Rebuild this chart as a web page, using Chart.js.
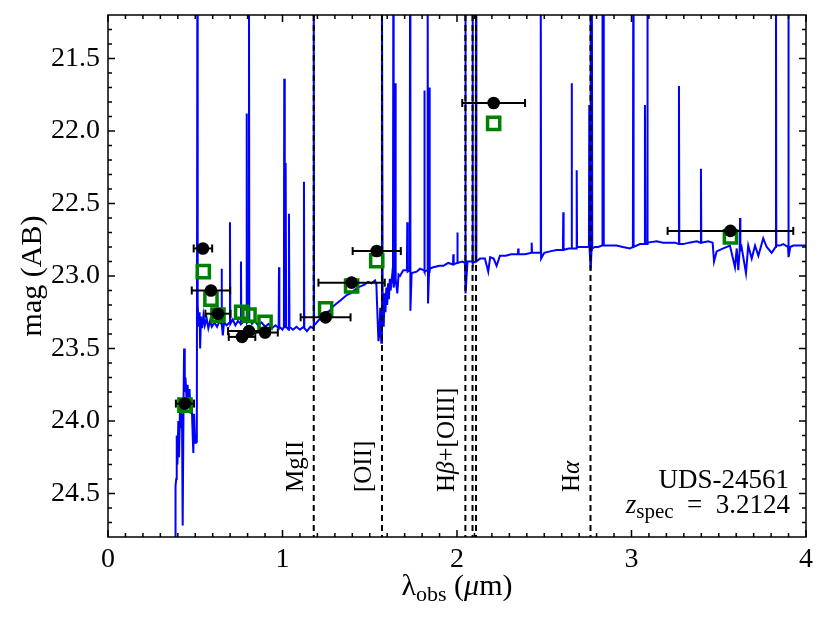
<!DOCTYPE html>
<html>
<head>
<meta charset="utf-8">
<script src="https://cdn.jsdelivr.net/npm/chart.js@4.4.0/dist/chart.umd.min.js"></script>
<style>
html, body { margin: 0; padding: 0; background: #fff; }
#wrap { width: 830px; height: 621px; }
</style>
</head>
<body>
<div id="wrap"><canvas id="sedChart" width="830" height="621"></canvas></div>
<script>
// best-fit model spectrum: [lambda_obs (um), mag AB]; the narrow spikes are emission lines
const spectrum = [
  [0.384, 24.95], [0.387, 24.45], [0.391, 24.40], [0.394, 24.10], [0.398, 24.30],
  [0.403, 24.00], [0.407, 24.25], [0.413, 23.90], [0.418, 24.05], [0.424, 23.95],
  [0.428, 24.72], [0.433, 23.85], [0.436, 23.50], [0.440, 23.80], [0.444, 23.70],
  [0.450, 23.85], [0.456, 23.75], [0.461, 23.90], [0.467, 23.78], [0.473, 23.95],
  [0.479, 23.85], [0.484, 24.05], [0.489, 24.22], [0.493, 23.95], [0.499, 24.15],
  [0.504, 24.12], [0.509, 24.15], [0.512, 21.00], [0.514, 23.20], [0.520, 23.35],
  [0.525, 23.25], [0.528, 23.50], [0.533, 23.28], [0.540, 23.36], [0.547, 23.27],
  [0.555, 23.34], [0.565, 23.29], [0.575, 23.36], [0.585, 23.31], [0.595, 23.35],
  [0.610, 23.32], [0.625, 23.35], [0.640, 23.31], [0.649, 23.33], [0.651, 22.95],
  [0.653, 23.33], [0.658, 23.41], [0.665, 23.32], [0.680, 23.34], [0.697, 23.32],
  [0.699, 22.63], [0.701, 23.33], [0.715, 23.30], [0.730, 23.34], [0.745, 23.31],
  [0.760, 23.33], [0.762, 22.90], [0.764, 23.33], [0.780, 23.31], [0.793, 23.32],
  [0.795, 21.88], [0.797, 23.32], [0.806, 23.30], [0.808, 21.00], [0.810, 23.30],
  [0.825, 23.33], [0.840, 23.31], [0.860, 23.34], [0.880, 23.32], [0.900, 23.35],
  [0.920, 23.33], [0.940, 23.36], [0.960, 23.34], [0.978, 23.36], [0.980, 22.94],
  [0.982, 23.35], [1.000, 23.37], [1.008, 23.35], [1.010, 21.64], [1.013, 23.36],
  [1.018, 22.22], [1.021, 23.35], [1.035, 23.37], [1.037, 22.57], [1.040, 23.35],
  [1.060, 23.37], [1.080, 23.35], [1.100, 23.37], [1.121, 23.35], [1.123, 22.35],
  [1.125, 23.36], [1.140, 23.38], [1.160, 23.35], [1.177, 23.36], [1.179, 21.00],
  [1.181, 23.34], [1.190, 23.33], [1.210, 23.30], [1.230, 23.29], [1.250, 23.25],
  [1.270, 23.24], [1.290, 23.21], [1.310, 23.19], [1.330, 23.17], [1.350, 23.15],
  [1.370, 23.13], [1.390, 23.12], [1.410, 23.10], [1.430, 23.08], [1.450, 23.07],
  [1.470, 23.06], [1.490, 23.04], [1.510, 23.05], [1.530, 23.03], [1.538, 23.06],
  [1.545, 23.30], [1.550, 23.45], [1.555, 23.40], [1.560, 23.22], [1.566, 23.46],
  [1.570, 21.00], [1.574, 23.15], [1.580, 23.35], [1.585, 23.12], [1.590, 23.25],
  [1.595, 23.08], [1.600, 23.20], [1.605, 23.05], [1.610, 23.16], [1.615, 23.02],
  [1.620, 23.10], [1.628, 23.00], [1.633, 23.05], [1.635, 21.00], [1.637, 23.08],
  [1.645, 23.01], [1.647, 21.67], [1.650, 23.02], [1.658, 23.12], [1.665, 22.99],
  [1.673, 23.00], [1.692, 22.96], [1.713, 22.96], [1.715, 22.63], [1.717, 22.97],
  [1.729, 22.96], [1.731, 21.00], [1.733, 23.24], [1.740, 22.98], [1.769, 22.97],
  [1.788, 22.95], [1.811, 22.96], [1.813, 21.72], [1.815, 22.97], [1.830, 22.96],
  [1.832, 21.00], [1.834, 23.19], [1.840, 22.97], [1.842, 21.70], [1.845, 22.95],
  [1.864, 22.94], [1.900, 22.93], [1.922, 22.93], [1.950, 22.91], [1.977, 22.92],
  [1.979, 22.85], [1.981, 22.92], [2.000, 22.91], [2.002, 22.70], [2.004, 22.91],
  [2.030, 22.90], [2.046, 22.91], [2.048, 21.00], [2.050, 23.12], [2.060, 22.90],
  [2.087, 22.90], [2.089, 21.00], [2.091, 22.91], [2.107, 22.90], [2.109, 21.00],
  [2.111, 22.90], [2.132, 22.88], [2.160, 22.88], [2.179, 22.97], [2.190, 22.87],
  [2.210, 22.88], [2.227, 22.93], [2.246, 22.86], [2.280, 22.86], [2.310, 22.85],
  [2.349, 22.85], [2.351, 22.81], [2.353, 22.85], [2.390, 22.85], [2.426, 22.84],
  [2.428, 22.77], [2.430, 22.84], [2.460, 22.84], [2.478, 22.84], [2.480, 21.00],
  [2.482, 22.88], [2.500, 22.84], [2.533, 22.83], [2.570, 22.82], [2.607, 22.82],
  [2.609, 22.56], [2.611, 22.82], [2.640, 22.81], [2.655, 22.81], [2.657, 21.67],
  [2.659, 22.81], [2.684, 22.81], [2.686, 22.27], [2.688, 22.80], [2.705, 22.80],
  [2.730, 22.80], [2.756, 22.80], [2.758, 21.82], [2.760, 22.82], [2.763, 22.88],
  [2.765, 21.00], [2.767, 22.96], [2.771, 22.82], [2.773, 21.00], [2.775, 22.81],
  [2.790, 22.80], [2.810, 22.80], [2.831, 22.79], [2.833, 21.00], [2.835, 22.79],
  [2.838, 22.79], [2.840, 21.00], [2.842, 22.79], [2.870, 22.79], [2.915, 22.79],
  [2.950, 22.80], [2.991, 22.81], [3.008, 22.80], [3.010, 21.00], [3.012, 22.80],
  [3.049, 22.78], [3.075, 22.78], [3.077, 21.82], [3.080, 22.78], [3.089, 22.78],
  [3.091, 21.00], [3.093, 22.77], [3.144, 22.76], [3.180, 22.77], [3.221, 22.77],
  [3.250, 22.77], [3.270, 22.78], [3.272, 21.69], [3.274, 22.78], [3.297, 22.78],
  [3.330, 22.77], [3.374, 22.76], [3.396, 22.77], [3.398, 22.26], [3.400, 22.77],
  [3.440, 22.76], [3.465, 22.77], [3.473, 22.90], [3.488, 22.83], [3.526, 22.81],
  [3.564, 22.79], [3.593, 22.94], [3.603, 22.81], [3.612, 22.96], [3.620, 22.82],
  [3.622, 22.60], [3.624, 22.82], [3.631, 22.80], [3.656, 22.98], [3.669, 22.79],
  [3.689, 22.88], [3.708, 22.79], [3.727, 22.86], [3.755, 22.74], [3.775, 22.80],
  [3.803, 22.84], [3.826, 22.80], [3.828, 21.00], [3.830, 22.79], [3.850, 22.79],
  [3.870, 22.78], [3.897, 22.80], [3.899, 21.00], [3.901, 22.87], [3.910, 22.80],
  [3.927, 22.79], [3.960, 22.79], [4.017, 22.79]
];

// observed photometry (black points, x error = filter half width)
const photLam = [0.441, 0.544, 0.590, 0.630, 0.768, 0.808, 0.900, 1.247, 1.396, 1.540, 2.210, 3.567];
const photMag = [23.88, 22.81, 23.10, 23.26, 23.42, 23.38, 23.39, 23.285, 23.046, 22.828, 21.807, 22.689];
const photErr = [0.052, 0.053, 0.11, 0.072, 0.076, 0.12, 0.073, 0.143, 0.19, 0.138, 0.18, 0.36];

// model photometry (green open squares)
const modelLam = [0.441, 0.546, 0.590, 0.630, 0.766, 0.808, 0.900, 1.247, 1.396, 1.540, 2.210, 3.567];
const modelMag = [23.89, 22.97, 23.16, 23.27, 23.25, 23.27, 23.32, 23.227, 23.069, 22.895, 21.947, 22.73];

// emission lines marked by dashed lines
const lineLam = [1.179, 1.570, 2.048, 2.089, 2.109, 2.765];

const yMin = 21.2, yMax = 24.8;
const SERIF = '"Liberation Serif", "DejaVu Serif", serif';
const font = (size, style) => (style ? style + ' ' : '') + size + 'px ' + SERIF;

const datasets = [];

photLam.forEach((lam, i) => {
  datasets.push({
    data: [{x: lam - photErr[i], y: photMag[i]}, {x: lam + photErr[i], y: photMag[i]}],
    showLine: true,
    borderColor: '#000',
    borderWidth: 2,
    pointStyle: 'line',
    rotation: 90,
    pointRadius: 4,
    pointBorderColor: '#000',
    pointBorderWidth: 2,
    order: 2
  });
});

datasets.push({
  data: photLam.map((lam, i) => ({x: lam, y: photMag[i]})),
  showLine: false,
  pointStyle: 'circle',
  pointRadius: 6.3,
  pointBackgroundColor: '#000',
  pointBorderColor: '#000',
  pointBorderWidth: 0,
  order: 1
});

datasets.push({
  data: modelLam.map((lam, i) => ({x: lam, y: modelMag[i]})),
  showLine: false,
  pointStyle: 'rect',
  pointRadius: 8.6,
  pointBackgroundColor: 'rgba(0,0,0,0)',
  pointBorderColor: '#008000',
  pointBorderWidth: 3.5,
  order: 3
});

lineLam.forEach(lam => {
  datasets.push({
    data: [{x: lam, y: yMin}, {x: lam, y: yMax}],
    showLine: true,
    borderColor: '#000',
    borderWidth: 2,
    borderDash: [6, 4],
    pointRadius: 0,
    order: 4
  });
});

datasets.push({
  data: spectrum.map(p => ({x: p[0], y: p[1]})),
  showLine: true,
  borderColor: '#0000ff',
  borderWidth: 2,
  pointRadius: 0,
  tension: 0,
  order: 5
});

// text made of several runs (normal / italic / subscript)
function drawRuns(ctx, x, y, runs, align) {
  let total = 0;
  runs.forEach(r => { ctx.font = r[1]; total += ctx.measureText(r[0]).width; });
  let cx = align === 'right' ? x - total : align === 'center' ? x - total / 2 : x;
  runs.forEach(r => {
    ctx.font = r[1];
    ctx.fillText(r[0], cx, y + (r[2] || 0));
    cx += ctx.measureText(r[0]).width;
  });
}

const frameAndText = {
  id: 'frameAndText',
  afterDraw(chart) {
    const {ctx, chartArea: a, scales: {x, y}} = chart;
    ctx.save();
    ctx.strokeStyle = '#000';
    ctx.lineWidth = 1.5;
    ctx.strokeRect(a.left, a.top, a.right - a.left, a.bottom - a.top);

    // inward ticks on all four sides
    ctx.beginPath();
    for (let i = 0; i <= 40; i++) {
      const px = x.getPixelForValue(i / 10);
      const len = i % 10 === 0 ? 7 : 4;
      ctx.moveTo(px, a.bottom); ctx.lineTo(px, a.bottom - len);
      ctx.moveTo(px, a.top); ctx.lineTo(px, a.top + len);
    }
    for (let i = 213; i <= 247; i++) {
      const py = y.getPixelForValue(i / 10);
      const len = i % 5 === 0 ? 7 : 4;
      ctx.moveTo(a.left, py); ctx.lineTo(a.left + len, py);
      ctx.moveTo(a.right, py); ctx.lineTo(a.right - len, py);
    }
    ctx.stroke();

    ctx.fillStyle = '#000';
    ctx.textAlign = 'left';
    ctx.textBaseline = 'alphabetic';

    // axis titles
    drawRuns(ctx, (a.left + a.right) / 2, 595, [
      ['λ', font(30)], ['obs', font(22), 6], [' (', font(30)], ['μ', font(30, 'italic')], ['m)', font(30)]
    ], 'center');
    ctx.save();
    ctx.translate(41, (a.top + a.bottom) / 2);
    ctx.rotate(-Math.PI / 2);
    drawRuns(ctx, 0, 0, [['mag (AB)', font(30)]], 'center');
    ctx.restore();

    // emission line labels, rotated
    const labelY = y.getPixelForValue(24.49);
    const lineText = [
      [1.179, [['MgII', font(25)]]],
      [1.570, [['[OII]', font(25)]]],
      [2.048, [['H', font(25)], ['β', font(25, 'italic')], ['+[OIII]', font(25)]]],
      [2.765, [['H', font(25)], ['α', font(25, 'italic')]]]
    ];
    lineText.forEach(([lam, runs]) => {
      ctx.save();
      ctx.translate(x.getPixelForValue(lam) - 11, labelY);
      ctx.rotate(-Math.PI / 2);
      drawRuns(ctx, 0, 0, runs, 'left');
      ctx.restore();
    });

    // object name and redshift
    drawRuns(ctx, 789, 488, [['UDS-24561', font(27)]], 'right');
    drawRuns(ctx, 790, 513, [
      ['z', font(27, 'italic')], ['spec', font(21), 5], ['\u2002=\u2002', font(27)], ['3.2124', font(27)]
    ], 'right');
    ctx.restore();
  }
};

new Chart(document.getElementById('sedChart').getContext('2d'), {
  type: 'scatter',
  data: { datasets: datasets },
  plugins: [frameAndText],
  options: {
    responsive: false,
    animation: false,
    layout: { padding: { top: 15, right: 24, left: 0, bottom: 0 } },
    plugins: { legend: { display: false }, tooltip: { enabled: false } },
    scales: {
      x: {
        type: 'linear',
        min: 0,
        max: 4,
        afterFit: s => { s.height = 84; s.paddingLeft = 0; s.paddingRight = 0; },
        grid: { display: false, drawTicks: false },
        border: { display: false },
        ticks: { stepSize: 1, padding: 6, color: '#000', font: { family: SERIF, size: 28 } }
      },
      y: {
        type: 'linear',
        reverse: true,
        min: yMin,
        max: yMax,
        afterFit: s => { s.width = 108; s.paddingTop = 0; s.paddingBottom = 0; },
        grid: { display: false, drawTicks: false },
        border: { display: false },
        ticks: {
          stepSize: 0.5,
          includeBounds: false,
          padding: 8,
          color: '#000',
          font: { family: SERIF, size: 28 },
          callback: v => v.toFixed(1)
        }
      }
    }
  }
});
</script>
</body>
</html>
